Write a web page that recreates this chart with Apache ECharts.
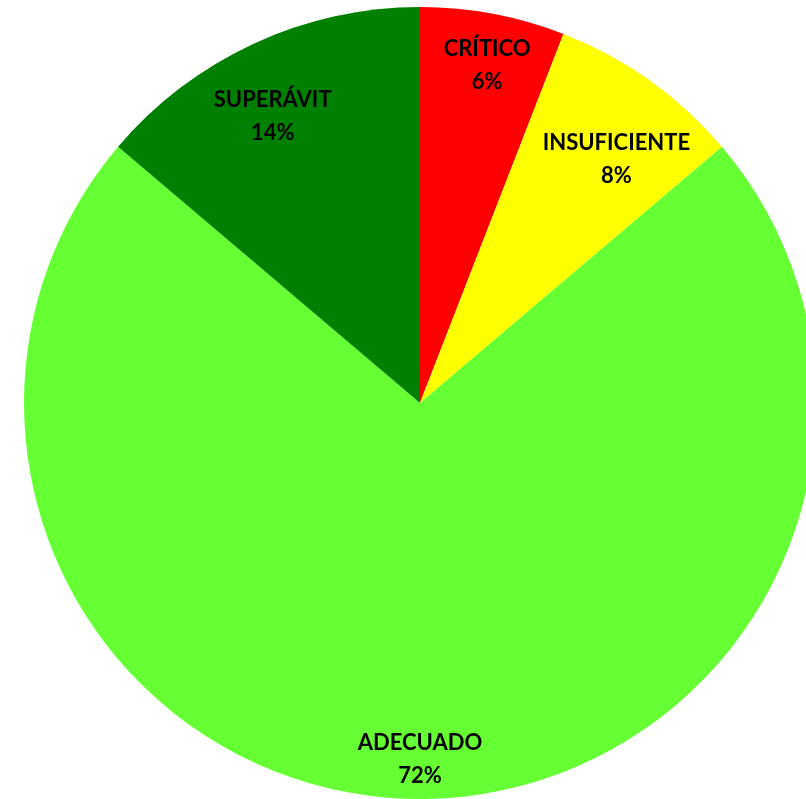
<!DOCTYPE html>
<html>
<head>
<meta charset="utf-8">
<script src="https://cdn.jsdelivr.net/npm/echarts@6/dist/echarts.min.js"></script>
<style>
  html, body { margin: 0; padding: 0; background: #fff; }
  #chart { width: 806px; height: 799px; }
</style>
</head>
<body>
<div id="chart"></div>
<script>
// categorias y valores (%)
const categories = ['CRÍTICO', 'INSUFICIENTE', 'ADECUADO', 'SUPERÁVIT'];
const values = [5.9, 7.9, 72.4, 13.8];
const colors = ['#FF0000', '#FFFF00', '#66FF33', '#008000'];
// pequeños ajustes de posicion de etiquetas (como en Excel)
const labelOffsets = [[6, -12], [4, 27], [0, 25], [-8, 14]];

const chart = echarts.init(document.getElementById('chart'));

const center = [420, 403];
const R = 396;

const option = {
  animation: false,
  series: [
    {
      type: 'pie',
      center: center,
      radius: [0, R],
      startAngle: 90,
      clockwise: true,
      silent: true,
      label: { show: false },
      labelLine: { show: false },
      itemStyle: { borderWidth: 0 },
      data: categories.map((c, i) => ({
        name: c,
        value: values[i],
        itemStyle: { color: colors[i] }
      }))
    },
    {
      // anillo transparente solo para colocar etiquetas cerca del borde
      type: 'pie',
      center: center,
      radius: [R * 0.66, R],
      startAngle: 90,
      clockwise: true,
      silent: true,
      itemStyle: { color: 'rgba(0,0,0,0)', borderWidth: 0 },
      labelLine: { show: false },
      label: {
        show: true,
        position: 'inside',
        fontFamily: 'Lato',
        fontWeight: 'bold',
        fontSize: 22,
        lineHeight: 33,
        color: '#000',
        formatter: p => p.name + '\n' + Math.round(p.percent) + '%'
      },
      data: categories.map((c, i) => ({
        name: c,
        value: values[i],
        label: { offset: labelOffsets[i] }
      }))
    }
  ]
};

chart.setOption(option);
</script>
</body>
</html>
